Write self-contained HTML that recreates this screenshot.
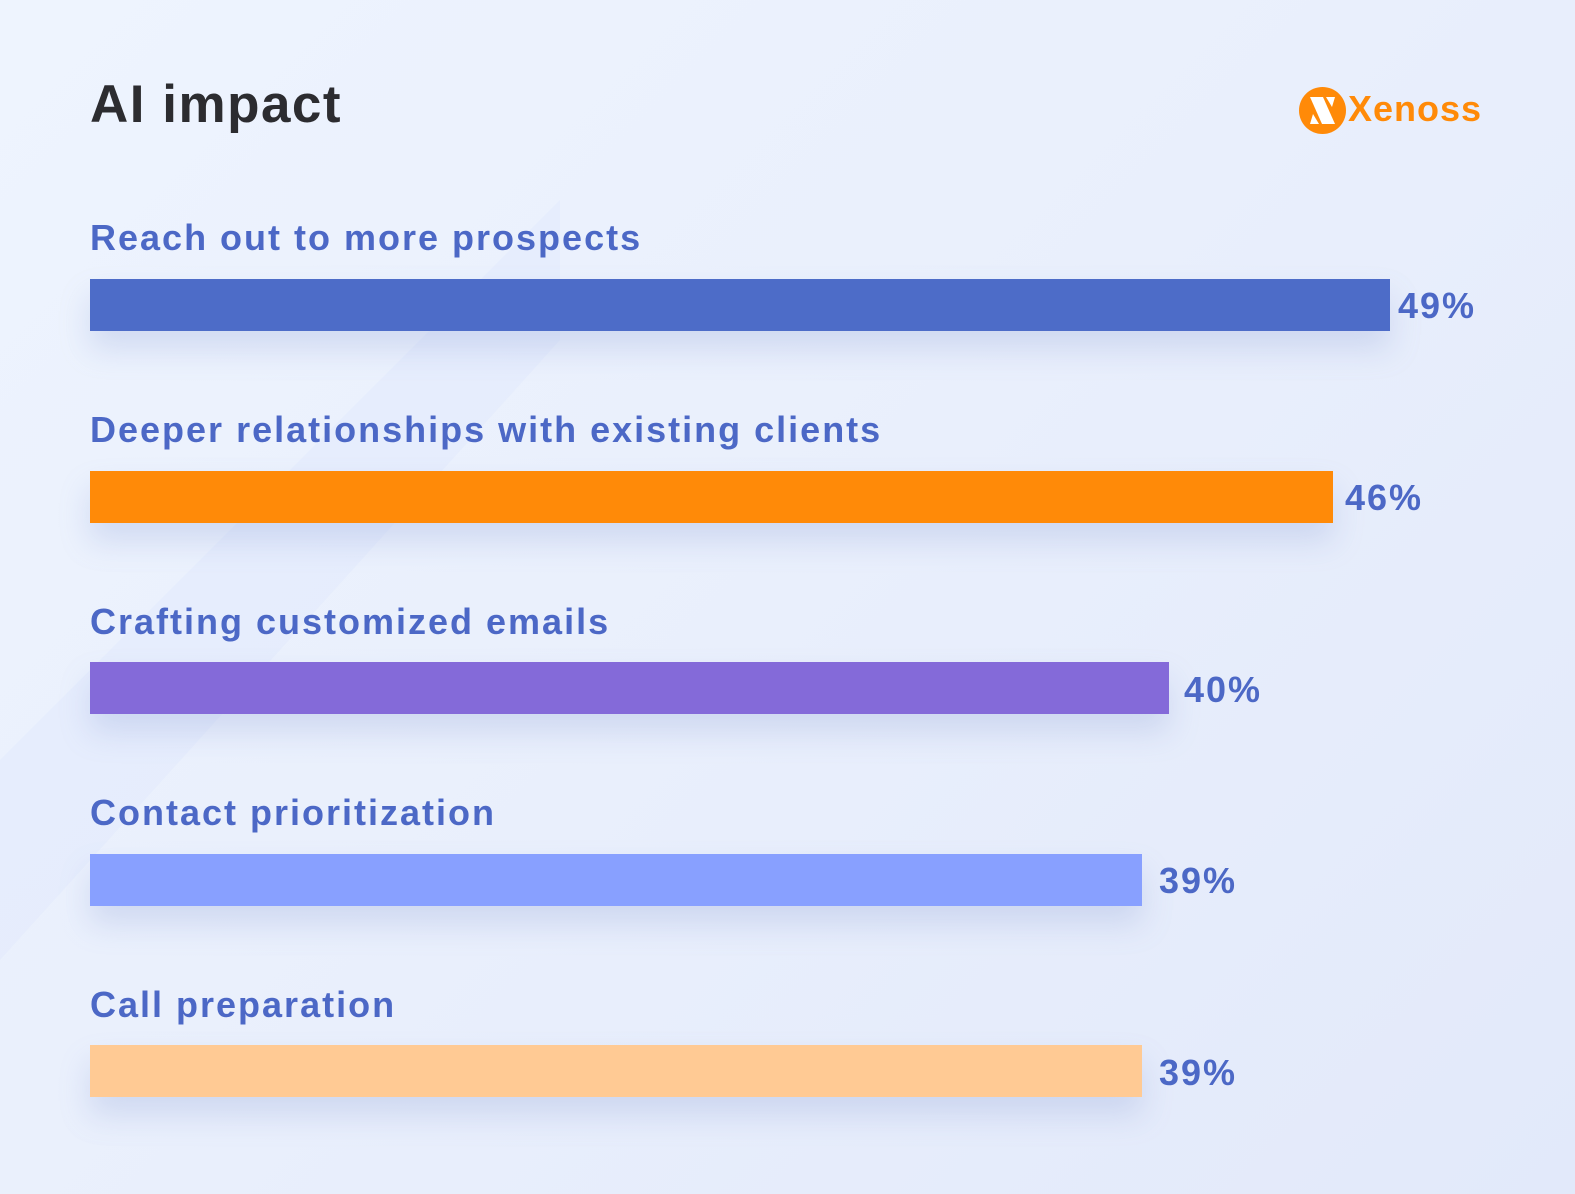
<!DOCTYPE html>
<html><head><meta charset="utf-8"><style>
body{margin:0;width:1575px;height:1194px;overflow:hidden;font-family:"Liberation Sans",sans-serif;
background:linear-gradient(135deg,#eef4fe 0%,#e9effc 50%,#e2e9fa 100%);position:relative}
.t{position:absolute;left:90px;top:74px;font-size:53px;font-weight:bold;color:#2c2c30;letter-spacing:1.5px}
.l{position:absolute;left:90px;font-size:36px;font-weight:bold;color:#4c68c6;white-space:nowrap;letter-spacing:2px}
.b{position:absolute;left:90px;height:52px;box-shadow:0 18px 30px rgba(130,150,210,0.25)}
.v{position:absolute;font-size:36px;font-weight:bold;color:#4c68c6;letter-spacing:2px}
.logo{position:absolute;left:1299px;top:87px}
.lt{position:absolute;left:1348px;top:88px;font-size:36px;font-weight:bold;color:#ff8a08;letter-spacing:1px}
</style></head><body>
<svg style="position:absolute;left:0;top:0" width="1575" height="1194"><polygon points="0,960 560,340 560,200 0,760" fill="#dde6fb" opacity="0.35"/></svg>
<div class="t">AI impact</div>
<svg class="logo" width="47" height="47" viewBox="0 0 47 47"><circle cx="23.5" cy="23.5" r="23.5" fill="#ff8a08"/><polygon points="11,10 24,10 36,37 23,37" fill="#fff"/><polygon points="27,10 36,10 33,20" fill="#fff"/><polygon points="11,37 14,27 20,37" fill="#fff"/></svg>
<div class="lt">Xenoss</div>

<div class="l" style="top:217px">Reach out to more prospects</div>
<div class="b" style="top:279px;width:1300px;background:#4d6cc8"></div>
<div class="v" style="left:1398px;top:285px">49%</div>

<div class="l" style="top:409px">Deeper relationships with existing clients</div>
<div class="b" style="top:471px;width:1243px;background:#ff8a08"></div>
<div class="v" style="left:1345px;top:477px">46%</div>

<div class="l" style="top:601px">Crafting customized emails</div>
<div class="b" style="top:662px;width:1079px;background:#846ad9"></div>
<div class="v" style="left:1184px;top:669px">40%</div>

<div class="l" style="top:792px">Contact prioritization</div>
<div class="b" style="top:854px;width:1052px;background:#88a0ff"></div>
<div class="v" style="left:1159px;top:860px">39%</div>

<div class="l" style="top:984px">Call preparation</div>
<div class="b" style="top:1045px;width:1052px;background:#ffca94"></div>
<div class="v" style="left:1159px;top:1052px">39%</div>
</body></html>
